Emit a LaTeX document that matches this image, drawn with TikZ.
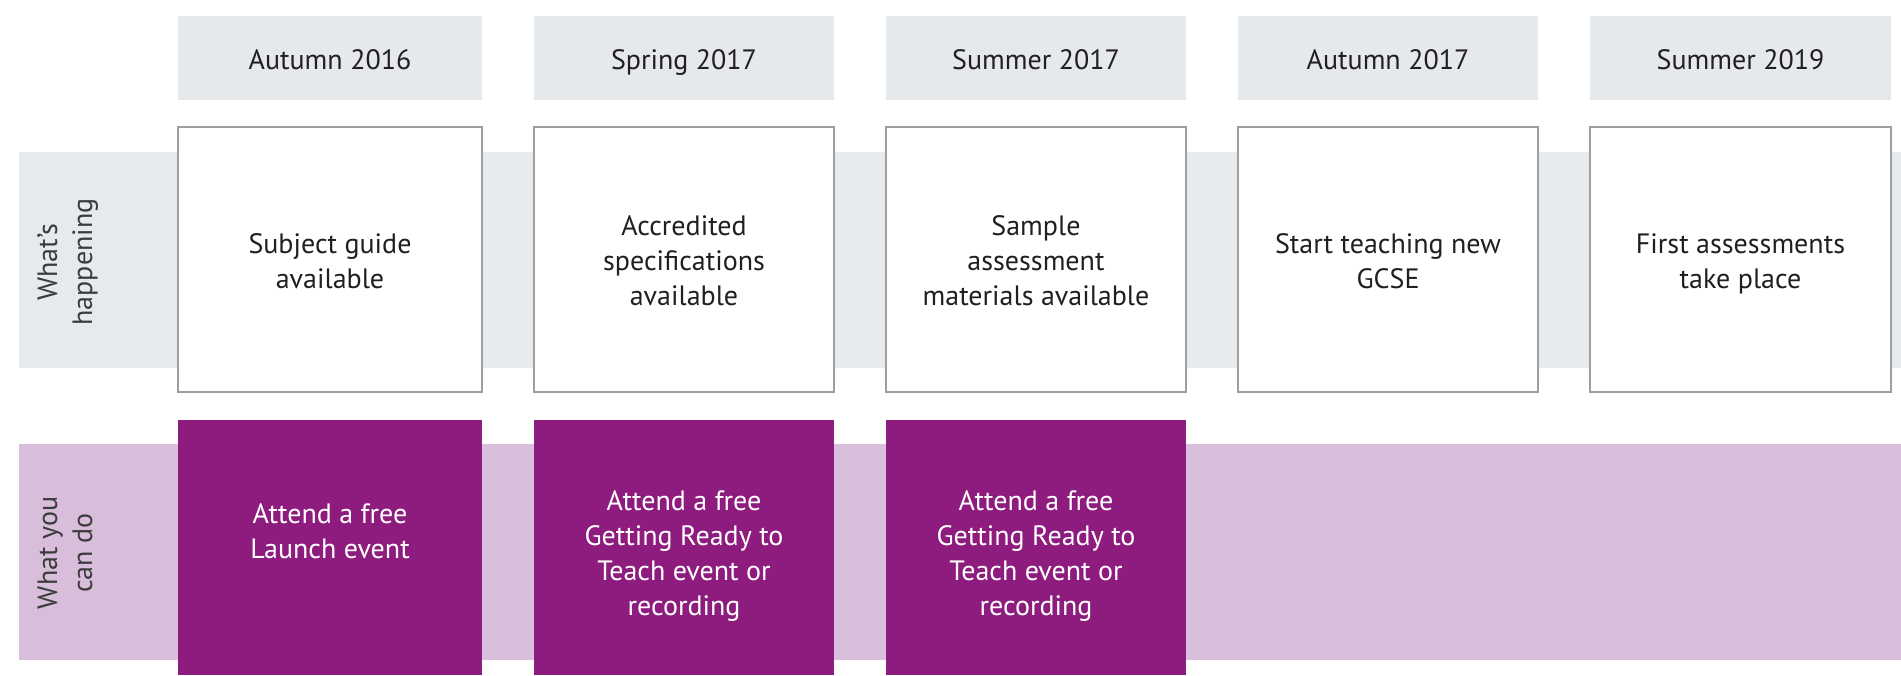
\documentclass[tikz,border=0pt]{standalone}
\usepackage{fontspec}
\setmainfont{PT Sans}
\definecolor{hdrgray}{HTML}{E6E9EC}
\definecolor{bandgray}{HTML}{E7EAED}
\definecolor{bandpurple}{HTML}{D9BEDB}
\definecolor{boxpurple}{HTML}{8E1B7E}
\definecolor{edgegray}{HTML}{9E9E9E}
\definecolor{txt}{HTML}{231F20}
\definecolor{sidetxt}{HTML}{3C3C3C}
\begin{document}
\begin{tikzpicture}[x=1pt,y=-1pt,
  every node/.style={inner sep=0pt, outer sep=0pt},
  txtfont/.style={font=\fontsize{28}{35}\selectfont, align=center,
    execute at begin node={\strut}, execute at end node={\strut}},
  hdr/.style={fill=hdrgray, minimum height=84pt},
  hdrtext/.style={text=txt, txtfont},
  whitebox/.style={draw=edgegray, line width=2.5pt, fill=white, minimum height=265pt},
  purplebox/.style={fill=boxpurple, minimum height=255pt},
  boxtext/.style={text=txt, txtfont},
  purpletext/.style={text=white, txtfont},
  sidelabel/.style={text=sidetxt, txtfont, rotate=90}
]
\useasboundingbox (0,0) rectangle (1901,675);
% bands
\fill[bandgray] (19,152) rectangle (1901,368);
\fill[bandpurple] (19,444) rectangle (1901,660);
\node[sidelabel] (lab1) at (70,262) {What’s\\happening};
\node[sidelabel] (lab2) at (70,553) {What you\\can do};
% headers
\node[hdr, minimum width=304pt] (h1) at (330,58) {};
\node[hdr, minimum width=300pt] (h2) at (684,58) {};
\node[hdr, minimum width=300pt] (h3) at (1036,58) {};
\node[hdr, minimum width=300pt] (h4) at (1388,58) {};
\node[hdr, minimum width=301pt] (h5) at (1740.5,58) {};
\node[hdrtext] (h1t) at (330,62) {Autumn 2016};
\node[hdrtext] (h2t) at (684,62) {Spring 2017};
\node[hdrtext] (h3t) at (1036,62) {Summer 2017};
\node[hdrtext] (h4t) at (1388,62) {Autumn 2017};
\node[hdrtext] (h5t) at (1740.5,62) {Summer 2019};
% white boxes
\node[whitebox, minimum width=304pt] (w1) at (330,259.5) {};
\node[whitebox, minimum width=300pt] (w2) at (684,259.5) {};
\node[whitebox, minimum width=300pt] (w3) at (1036,259.5) {};
\node[whitebox, minimum width=300pt] (w4) at (1388,259.5) {};
\node[whitebox, minimum width=301pt] (w5) at (1740.5,259.5) {};
\node[boxtext] (w1t) at (330,266) {Subject guide\\available};
\node[boxtext] (w2t) at (684,266) {Accredited\\specifications\\available};
\node[boxtext] (w3t) at (1036,266) {Sample\\assessment\\materials available};
\node[boxtext] (w4t) at (1388,266) {Start teaching new\\GCSE};
\node[boxtext] (w5t) at (1740.5,266) {First assessments\\take place};
% purple boxes
\node[purplebox, minimum width=304pt] (p1) at (330,547.5) {};
\node[purplebox, minimum width=300pt] (p2) at (684,547.5) {};
\node[purplebox, minimum width=300pt] (p3) at (1036,547.5) {};
\node[purpletext] (p1t) at (330,536) {Attend a free\\Launch event};
\node[purpletext] (p2t) at (684,558) {Attend a free\\Getting Ready to\\Teach event or\\recording};
\node[purpletext] (p3t) at (1036,558) {Attend a free\\Getting Ready to\\Teach event or\\recording};
\end{tikzpicture}
\end{document}
